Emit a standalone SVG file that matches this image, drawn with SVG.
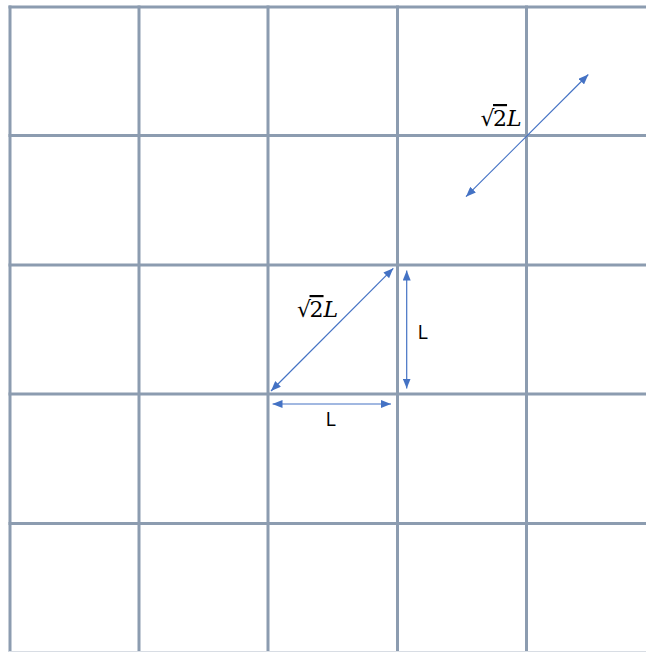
<svg xmlns="http://www.w3.org/2000/svg" width="646" height="652" viewBox="0 0 646 652">
<style>
.grid line{stroke:#8C9CB0;stroke-width:3}
.arr{stroke:#4472C4;stroke-width:1.2;fill:none;marker-start:url(#ah);marker-end:url(#ah)}
.lbl{font-family:"Open Sans","Liberation Sans",sans-serif;font-size:20px;fill:#000}
.math{font-family:"DejaVu Serif","Liberation Serif",serif;font-size:22px;fill:#000}
</style>
<defs>
<marker id="ah" viewBox="0 0 10 8" refX="10" refY="4" markerWidth="10" markerHeight="8" markerUnits="userSpaceOnUse" orient="auto-start-reverse">
<path d="M0,0 L10,4 L0,8 Z" fill="#4472C4"/>
</marker>
</defs>
<rect width="646" height="652" fill="#fff"/>
<g id="grid" class="grid">
<line x1="10" y1="5.5" x2="10" y2="652"/>
<line x1="139" y1="5.5" x2="139" y2="652"/>
<line x1="268" y1="5.5" x2="268" y2="652"/>
<line x1="397.5" y1="5.5" x2="397.5" y2="652"/>
<line x1="526.5" y1="5.5" x2="526.5" y2="652"/>
<line x1="8.5" y1="7" x2="646" y2="7"/>
<line x1="8.5" y1="135.5" x2="646" y2="135.5"/>
<line x1="8.5" y1="265" x2="646" y2="265"/>
<line x1="8.5" y1="394" x2="646" y2="394"/>
<line x1="8.5" y1="523.5" x2="646" y2="523.5"/>
<line x1="8.5" y1="651.5" x2="646" y2="651.5" style="stroke:#d8dde4;stroke-width:1"/>
</g>
<g id="connectors">
<line class="arr" x1="271" y1="391" x2="393.3" y2="268.3"/>
<line class="arr" x1="406.7" y1="270.5" x2="406.7" y2="388.5"/>
<line class="arr" x1="272.5" y1="404" x2="391" y2="404"/>
<line class="arr" x1="466" y1="196.7" x2="588.3" y2="74.5"/>
</g>
<g id="label-diag1">
<text class="math" x="297" y="317">√<tspan dx="-1.5" text-decoration="overline">2</tspan><tspan font-style="italic">L</tspan></text>
</g>
<g id="label-diag2">
<text class="math" x="480.5" y="126">√<tspan dx="-1.5" text-decoration="overline">2</tspan><tspan font-style="italic">L</tspan></text>
</g>
<g id="label-L-vert">
<text class="lbl" x="417.5" y="339">L</text>
</g>
<g id="label-L-horiz">
<text class="lbl" x="325.5" y="425.5">L</text>
</g>
</svg>
